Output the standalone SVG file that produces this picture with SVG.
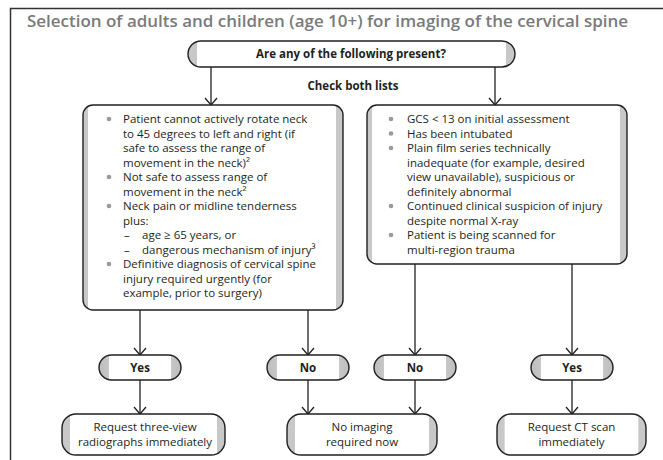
<svg xmlns="http://www.w3.org/2000/svg" width="663" height="460" viewBox="0 0 663 460">
<style>
.t{font-family:"Open Sans","Liberation Sans",sans-serif;font-size:11.5px;fill:#231f20}
.b{font-family:"Open Sans","Liberation Sans",sans-serif;font-size:11.5px;font-weight:700;fill:#231f20}
.title{font-family:"Open Sans","Liberation Sans",sans-serif;font-size:15.5px;font-weight:600;fill:#7a7a7a}
.c{text-anchor:middle}
.shape{stroke:#231f20;stroke-width:1.4}
.bul{fill:#9a9a9a}
.con{stroke:#231f20;stroke-width:1.3;fill:none;marker-end:url(#ah)}
</style>
<defs>
<marker id="ah" viewBox="-9 -7 11 14" refX="0" refY="0" markerWidth="11" markerHeight="14" markerUnits="userSpaceOnUse" orient="auto">
<path d="M-7,-6 L0,0 L-7,6" fill="none" stroke="#231f20" stroke-width="1.3"/>
</marker>
<linearGradient id="gPill" x1="0" y1="0" x2="1" y2="0">
<stop offset="0" stop-color="#bdbdbd"/><stop offset="0.12" stop-color="#c8c8c8"/><stop offset="0.121" stop-color="#fff"/>
<stop offset="0.879" stop-color="#fff"/><stop offset="0.88" stop-color="#c8c8c8"/><stop offset="1" stop-color="#bdbdbd"/>
</linearGradient>
<linearGradient id="gTop" x1="0" y1="0" x2="1" y2="0">
<stop offset="0" stop-color="#c8c8c8"/><stop offset="0.028" stop-color="#c8c8c8"/><stop offset="0.029" stop-color="#fff"/>
<stop offset="0.971" stop-color="#fff"/><stop offset="0.972" stop-color="#c8c8c8"/><stop offset="1" stop-color="#c8c8c8"/>
</linearGradient>
<linearGradient id="gBox" x1="0" y1="0" x2="1" y2="0">
<stop offset="0" stop-color="#c8c8c8"/><stop offset="0.018" stop-color="#c8c8c8"/><stop offset="0.019" stop-color="#fff"/>
<stop offset="0.972" stop-color="#fff"/><stop offset="0.973" stop-color="#c8c8c8"/><stop offset="1" stop-color="#c8c8c8"/>
</linearGradient>
<linearGradient id="gEnd" x1="0" y1="0" x2="1" y2="0">
<stop offset="0" stop-color="#c8c8c8"/><stop offset="0.05" stop-color="#c8c8c8"/><stop offset="0.051" stop-color="#fff"/>
<stop offset="0.949" stop-color="#fff"/><stop offset="0.95" stop-color="#c8c8c8"/><stop offset="1" stop-color="#c8c8c8"/>
</linearGradient>
</defs>
<rect width="663" height="460" fill="#fff"/>
<path d="M10.5,460 L10.5,8.5 L663,8.5" fill="none" stroke="#333" stroke-width="1.5"/>
<text class="title" x="27" y="27" textLength="601" lengthAdjust="spacingAndGlyphs">Selection of adults and children (age 10+) for imaging of the cervical spine</text>

<g id="connectors">
<line class="con" x1="211" y1="67" x2="211" y2="105"/>
<line class="con" x1="495" y1="67" x2="495" y2="105"/>
<line class="con" x1="140" y1="310" x2="140" y2="355"/>
<line class="con" x1="308" y1="310" x2="308" y2="355"/>
<line class="con" x1="415" y1="264" x2="415" y2="355"/>
<line class="con" x1="572" y1="264" x2="572" y2="355"/>
<line class="con" x1="140" y1="380" x2="140" y2="414"/>
<line class="con" x1="308" y1="380" x2="308" y2="414"/>
<line class="con" x1="415" y1="380" x2="415" y2="414"/>
<line class="con" x1="572" y1="380" x2="572" y2="414"/>
</g>
<text class="b c" x="353" y="90">Check both lists</text>

<g id="question">
<rect class="shape" x="188" y="41" width="327" height="26" rx="13" fill="url(#gTop)"/>
<text class="b c" x="351" y="58">Are any of the following present?</text>
</g>

<g id="listA">
<rect class="shape" x="83" y="105" width="260" height="205" rx="10" fill="url(#gBox)"/>
<circle class="bul" cx="109" cy="119" r="2.3"/>
<circle class="bul" cx="109" cy="177" r="2.3"/>
<circle class="bul" cx="109" cy="206" r="2.3"/>
<circle class="bul" cx="109" cy="264" r="2.3"/>
<text class="t" x="123" y="123">Patient cannot actively rotate neck</text>
<text class="t" x="123" y="137.5">to 45 degrees to left and right (if</text>
<text class="t" x="123" y="152">safe to assess the range of</text>
<text class="t" x="123" y="166.5">movement in the neck)²</text>
<text class="t" x="123" y="181">Not safe to assess range of</text>
<text class="t" x="123" y="195.5">movement in the neck²</text>
<text class="t" x="123" y="210">Neck pain or midline tenderness</text>
<text class="t" x="123" y="224.5">plus:</text>
<text class="t" x="124" y="239">–</text>
<text class="t" x="142" y="239">age ≥ 65 years, or</text>
<text class="t" x="124" y="253.5">–</text>
<text class="t" x="142" y="253.5">dangerous mechanism of injury³</text>
<text class="t" x="123" y="268">Definitive diagnosis of cervical spine</text>
<text class="t" x="123" y="282.5">injury required urgently (for</text>
<text class="t" x="123" y="297">example, prior to surgery)</text>
</g>

<g id="listB">
<rect class="shape" x="367" y="105" width="260" height="159" rx="10" fill="url(#gBox)"/>
<circle class="bul" cx="391" cy="119" r="2.3"/>
<circle class="bul" cx="391" cy="133.5" r="2.3"/>
<circle class="bul" cx="391" cy="148" r="2.3"/>
<circle class="bul" cx="391" cy="206" r="2.3"/>
<circle class="bul" cx="391" cy="235" r="2.3"/>
<text class="t" x="407" y="123">GCS &lt; 13 on initial assessment</text>
<text class="t" x="407" y="137.5">Has been intubated</text>
<text class="t" x="407" y="152">Plain film series technically</text>
<text class="t" x="407" y="166.5">inadequate (for example, desired</text>
<text class="t" x="407" y="181">view unavailable), suspicious or</text>
<text class="t" x="407" y="195.5">definitely abnormal</text>
<text class="t" x="407" y="210">Continued clinical suspicion of injury</text>
<text class="t" x="407" y="224.5">despite normal X-ray</text>
<text class="t" x="407" y="239">Patient is being scanned for</text>
<text class="t" x="407" y="253.5">multi-region trauma</text>
</g>

<g id="yesA">
<rect class="shape" x="99" y="355" width="82" height="25" rx="12.5" fill="url(#gPill)"/>
<text class="b c" x="140" y="372">Yes</text>
</g>
<g id="noA">
<rect class="shape" x="267" y="355" width="82" height="25" rx="12.5" fill="url(#gPill)"/>
<text class="b c" x="308" y="372">No</text>
</g>
<g id="noB">
<rect class="shape" x="374" y="355" width="82" height="25" rx="12.5" fill="url(#gPill)"/>
<text class="b c" x="415" y="372">No</text>
</g>
<g id="yesB">
<rect class="shape" x="531" y="355" width="82" height="25" rx="12.5" fill="url(#gPill)"/>
<text class="b c" x="572" y="372">Yes</text>
</g>

<g id="radiographs">
<rect class="shape" x="62" y="414" width="163" height="41" rx="14" fill="url(#gEnd)"/>
<text class="t c" x="145" y="431">Request three-view</text>
<text class="t c" x="145" y="445.5">radiographs immediately</text>
</g>
<g id="noImaging">
<rect class="shape" x="287" y="414" width="150" height="41" rx="14" fill="url(#gEnd)"/>
<text class="t c" x="362" y="431">No imaging</text>
<text class="t c" x="362" y="445.5">required now</text>
</g>
<g id="ctScan">
<rect class="shape" x="497" y="414" width="149" height="41" rx="14" fill="url(#gEnd)"/>
<text class="t c" x="571.5" y="431">Request CT scan</text>
<text class="t c" x="571.5" y="445.5">immediately</text>
</g>
</svg>
